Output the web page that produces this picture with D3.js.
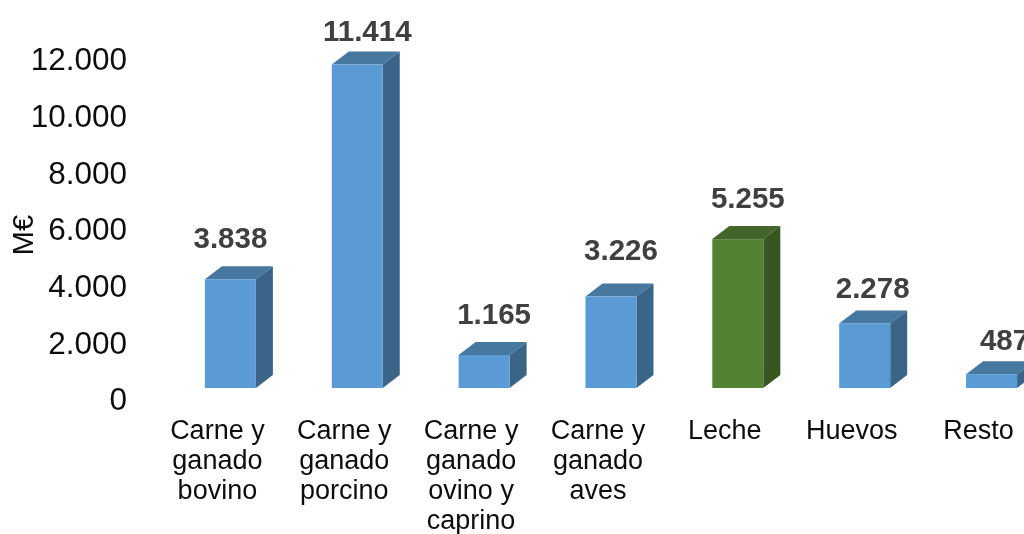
<!DOCTYPE html>
<html><head><meta charset="utf-8">
<script src="https://cdn.jsdelivr.net/npm/d3@7/dist/d3.min.js"></script>
<style>html,body{margin:0;padding:0;background:#fff;overflow:hidden}svg{display:block;filter:blur(0.4px)}text{font-family:"Liberation Sans",Arial,sans-serif}</style>
</head><body><div id="chart"></div>
<script>
const categories = [["Carne y","ganado","bovino"],["Carne y","ganado","porcino"],["Carne y","ganado","ovino y","caprino"],["Carne y","ganado","aves"],["Leche"],["Huevos"],["Resto"]];
const values = [3838,11414,1165,3226,5255,2278,487];
const valueLabels = ["3.838","11.414","1.165","3.226","5.255","2.278","487"];
const yTicks = [0,2000,4000,6000,8000,10000,12000];
const labelShiftX = [0,10,10,10,10,8,13];
const labelGapY = [28,21,28,34,28,22,21];
const W=1024,H=534,depthX=17,depthY=13,barW=51;
const svg=d3.select("#chart").append("svg").attr("width",W).attr("height",H);
const x=d3.scaleBand().domain(d3.range(values.length)).range([167,1055]).paddingInner(0.5976).paddingOuter(0.2988);
const y=d3.scaleLinear().domain([0,12000]).range([388,48]);
const fmt=d=>d3.format(",")(d).replace(/,/g,".");
const axis=d3.axisLeft(y).tickValues(yTicks).tickFormat(fmt).tickSize(0).tickPadding(0);
const gA=svg.append("g").attr("transform","translate(127,10.5)").call(axis);
gA.select(".domain").remove();
gA.selectAll("text").attr("font-size",31.5).attr("fill","#0d0d0d").attr("dy","0.36em");
svg.append("text").attr("transform","translate(33,235) rotate(-90)").attr("text-anchor","middle").attr("font-size",29).attr("fill","#0d0d0d").text("M€");
const pal={blue:["#5B9BD5","#47789F","#3A6589"],green:["#548235","#426629","#375622"]};
const g=svg.selectAll("g.bar").data(values).join("g").attr("class","bar");
const colr=i=>i===4?pal.green:pal.blue;
const pts=a=>a.map(p=>p.join(",")).join(" ");
const xl=i=>x(i),yt=d=>y(d),yb=y(0);
g.append("polygon").attr("fill",(d,i)=>colr(i)[1]).attr("points",(d,i)=>pts([[xl(i),yt(d)],[xl(i)+depthX,yt(d)-depthY],[xl(i)+barW+depthX,yt(d)-depthY],[xl(i)+barW,yt(d)]]));
g.append("polygon").attr("fill",(d,i)=>colr(i)[2]).attr("points",(d,i)=>pts([[xl(i)+barW,yt(d)],[xl(i)+barW+depthX,yt(d)-depthY],[xl(i)+barW+depthX,yb-depthY],[xl(i)+barW,yb]]));
g.append("rect").attr("fill",(d,i)=>colr(i)[0]).attr("x",(d,i)=>xl(i)).attr("y",d=>yt(d)).attr("width",barW).attr("height",d=>yb-yt(d));
g.append("text").attr("text-anchor","middle").attr("font-size",29.5).attr("font-weight","bold").attr("fill","#404040")
 .attr("x",(d,i)=>xl(i)+barW/2+labelShiftX[i]).attr("y",(d,i)=>yt(d)-depthY-labelGapY[i]+10).text((d,i)=>valueLabels[i]);
const c=svg.selectAll("text.cat").data(categories).join("text").attr("class","cat").attr("text-anchor","middle").attr("font-size",27).attr("fill","#0d0d0d");
c.each(function(lines,i){d3.select(this).selectAll("tspan").data(lines).join("tspan").attr("x",xl(i)+barW/2-13).attr("y",(l,k)=>439+k*30).text(l=>l);});
</script></body></html>
